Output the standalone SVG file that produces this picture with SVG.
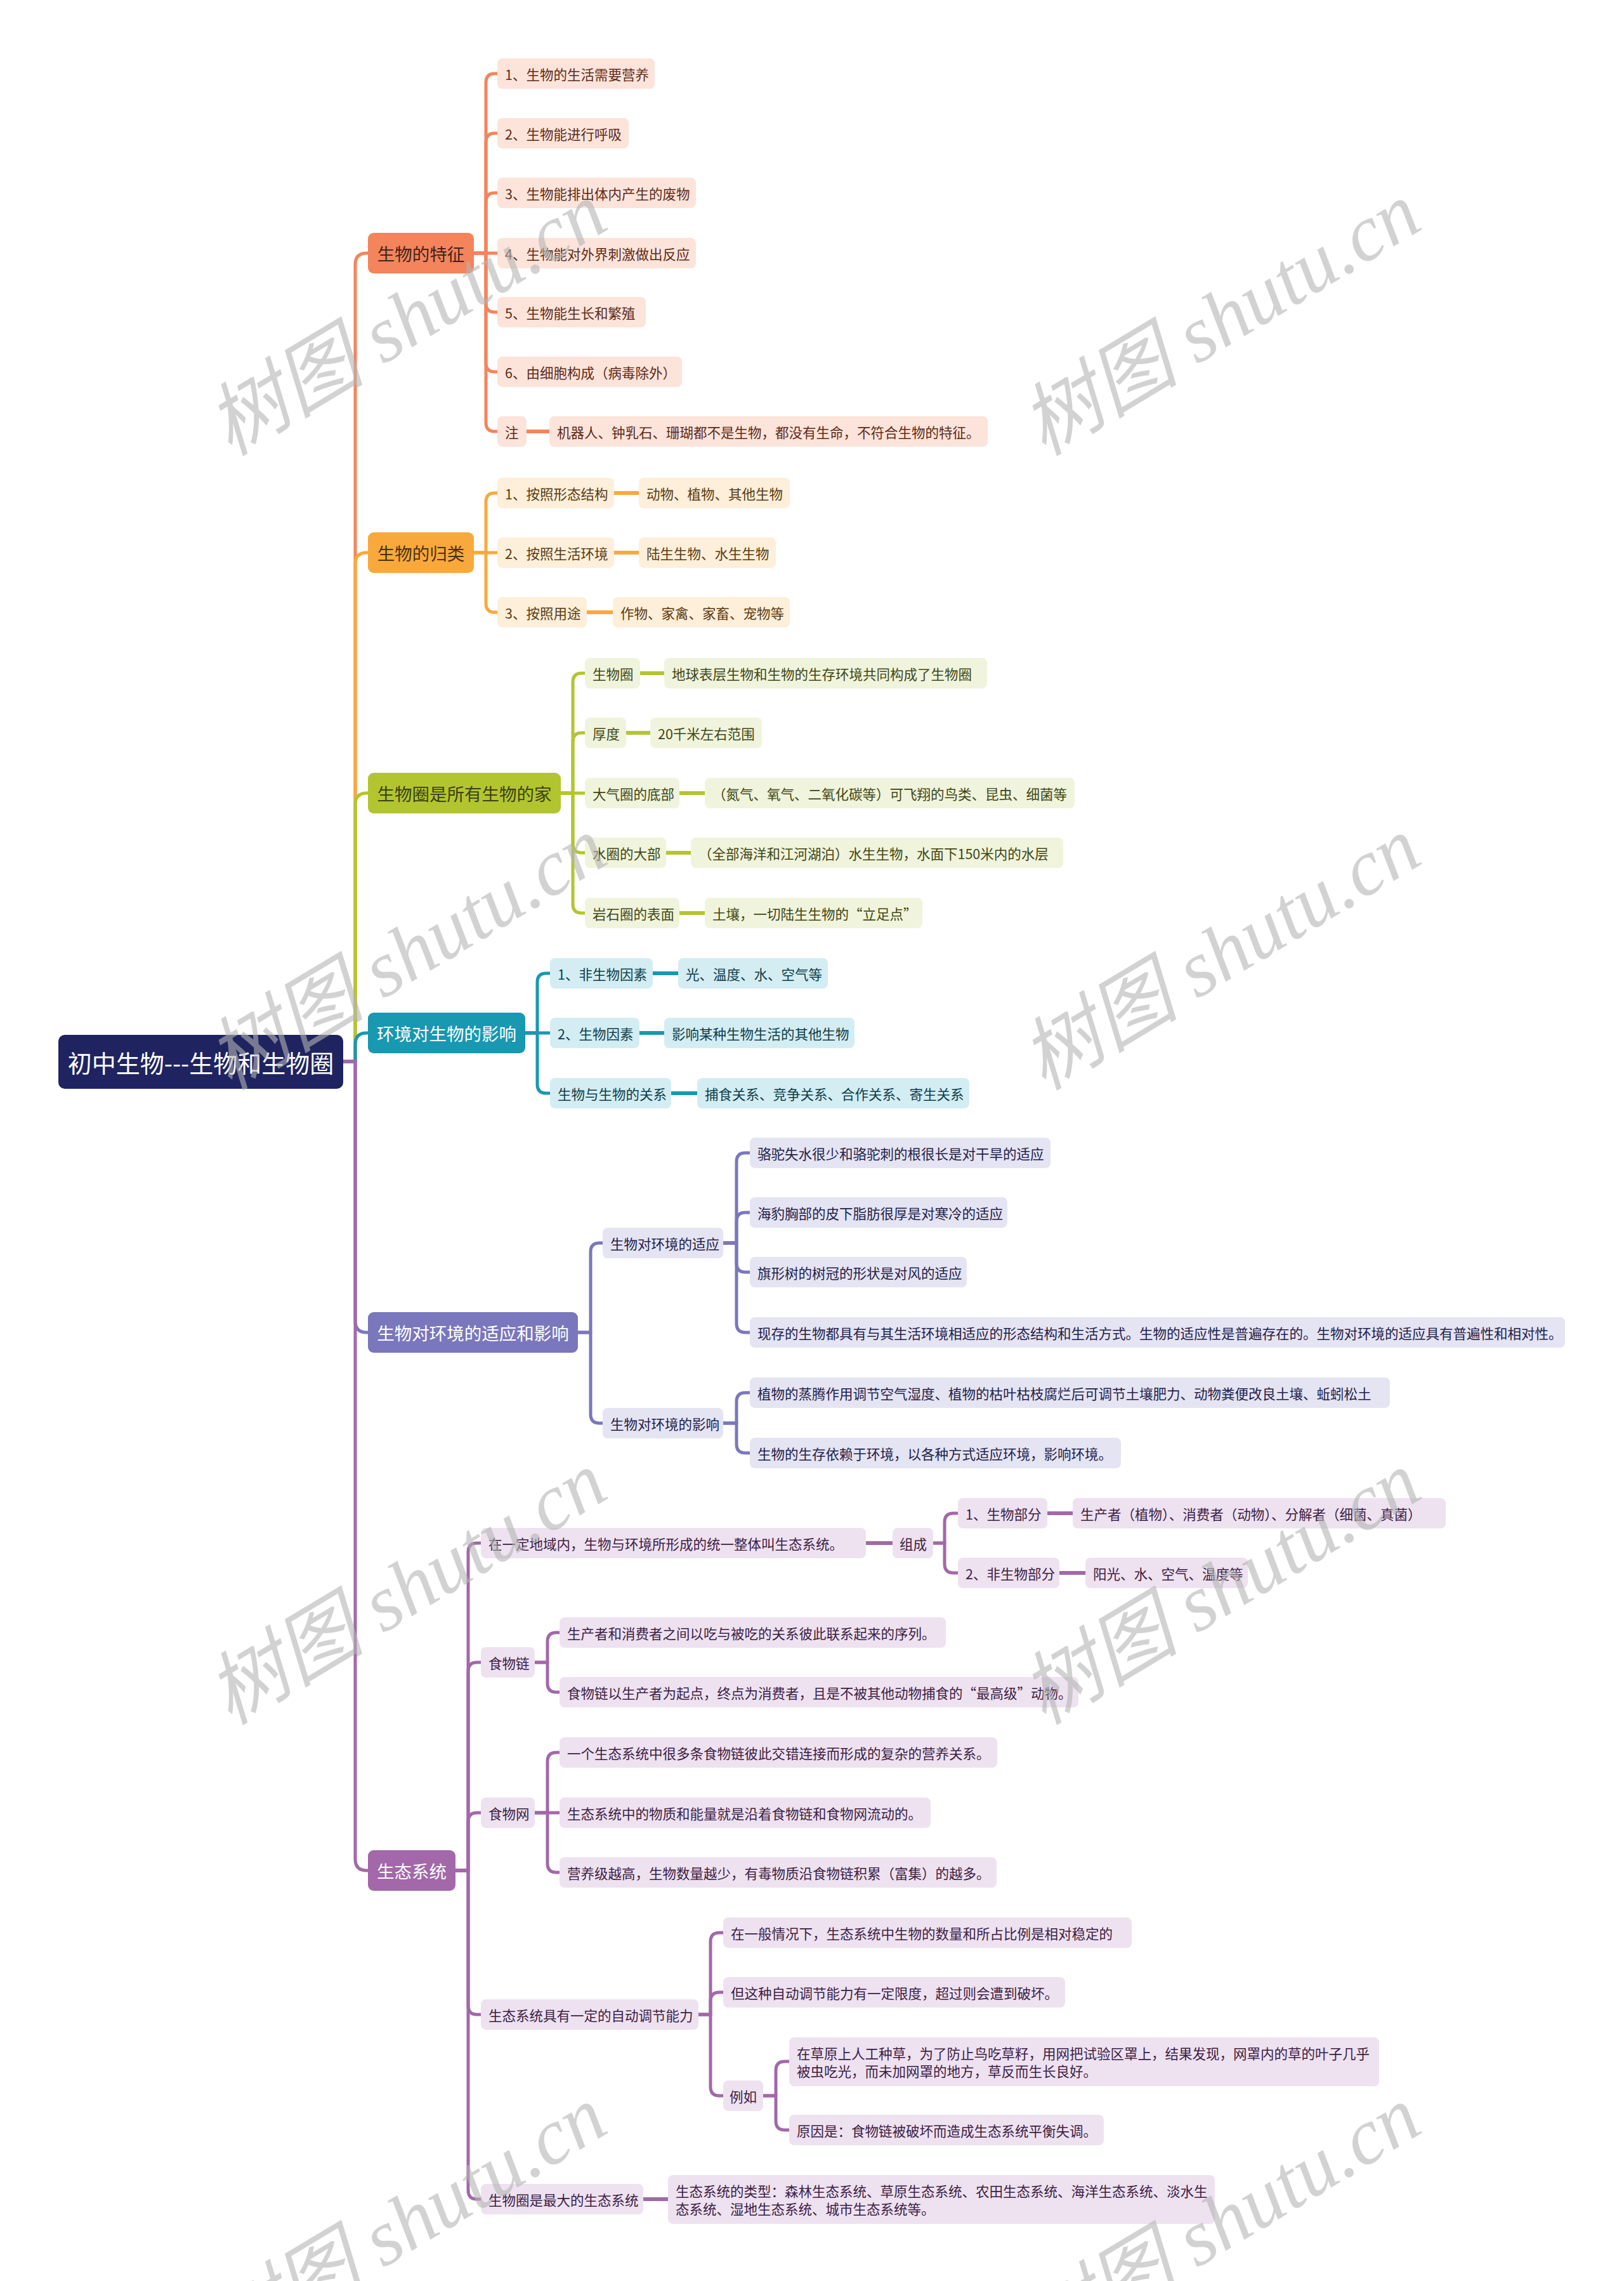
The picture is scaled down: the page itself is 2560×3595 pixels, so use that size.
<svg xmlns="http://www.w3.org/2000/svg" width="2560" height="3595" viewBox="0 0 2560 3595">
<style>
text{font-family:"Noto Sans CJK SC","Noto Sans",sans-serif;}
.t0{font-size:38px;fill:#fff;text-anchor:middle;dominant-baseline:central;}
.t1{font-size:27.5px;text-anchor:middle;dominant-baseline:central;}
.t2{font-size:21.5px;dominant-baseline:central;}
.c{fill:none;stroke-width:5;stroke-linecap:round;stroke-linejoin:round;}
.s{fill:none;stroke-width:6;}
.cA{stroke:#f4845c}.cB{stroke:#f9a93b}.cC{stroke:#b3c52e}.cD{stroke:#1898b1}.cE{stroke:#7a77bc}.cF{stroke:#a268a9}
.fA{fill:#fce4da}.fB{fill:#fdefd9}.fC{fill:#f0f4dc}.fD{fill:#d3edf3}.fE{fill:#e5e4f2}.fF{fill:#eee2f0}
.xA{fill:#5e2a18}.xB{fill:#5a3b12}.xC{fill:#3f4614}.xD{fill:#0f3d48}.xE{fill:#22214a}.xF{fill:#3c2044}
.wm{font-family:"Liberation Serif","Noto Sans CJK SC",serif;font-style:italic;font-size:125px;fill:#b4b4b4;fill-opacity:0.6;text-anchor:middle;}
</style>
<rect width="2560" height="3595" fill="#ffffff"/>
<g id="connectors">
<path class="c cA" d="M541 1673 H560 V417 Q560 399 578 399 H580"/>
<path class="c cB" d="M541 1673 H560 V889 Q560 871 578 871 H580"/>
<path class="c cC" d="M541 1673 H560 V1268 Q560 1250 578 1250 H580"/>
<path class="c cD" d="M541 1673 H560 V1646 Q560 1628 578 1628 H580"/>
<path class="c cE" d="M541 1673 H560 V2082 Q560 2100 578 2100 H580"/>
<path class="c cF" d="M541 1673 H560 V2930 Q560 2948 578 2948 H580"/>
<path class="c cA" d="M747 399 H766 V130 Q766 116 780 116 H784"/>
<path class="c cA" d="M747 399 H766 V224 Q766 210 780 210 H784"/>
<path class="c cA" d="M747 399 H766 V318 Q766 304 780 304 H784"/>
<path class="c cA" d="M747 399 H784"/>
<path class="c cA" d="M747 399 H766 V478 Q766 492 780 492 H784"/>
<path class="c cA" d="M747 399 H766 V572 Q766 586 780 586 H784"/>
<path class="c cA" d="M747 399 H766 V666 Q766 680 780 680 H784"/>
<path class="s cA" d="M830 680 H866"/>
<path class="c cB" d="M747 871 H766 V791 Q766 777 780 777 H784"/>
<path class="c cB" d="M747 871 H784"/>
<path class="c cB" d="M747 871 H766 V951 Q766 965 780 965 H784"/>
<path class="s cB" d="M968 777 H1007"/>
<path class="s cB" d="M968 871 H1007"/>
<path class="s cB" d="M925 965 H966"/>
<path class="c cC" d="M884 1250 H903 V1075 Q903 1061 917 1061 H922"/>
<path class="c cC" d="M884 1250 H903 V1169 Q903 1155 917 1155 H922"/>
<path class="c cC" d="M884 1250 H922"/>
<path class="c cC" d="M884 1250 H903 V1330 Q903 1344 917 1344 H922"/>
<path class="c cC" d="M884 1250 H903 V1425 Q903 1439 917 1439 H922"/>
<path class="s cC" d="M1009 1061 H1047"/>
<path class="s cC" d="M987 1155 H1025"/>
<path class="s cC" d="M1071 1250 H1111"/>
<path class="s cC" d="M1050 1344 H1089"/>
<path class="s cC" d="M1071 1439 H1111"/>
<path class="c cD" d="M828 1628 H847 V1548 Q847 1534 861 1534 H867"/>
<path class="c cD" d="M828 1628 H867"/>
<path class="c cD" d="M828 1628 H847 V1709 Q847 1723 861 1723 H867"/>
<path class="s cD" d="M1029 1534 H1069"/>
<path class="s cD" d="M1008 1628 H1047"/>
<path class="s cD" d="M1058 1723 H1099"/>
<path class="c cE" d="M911 2100 H931 V1973 Q931 1959 945 1959 H950"/>
<path class="c cE" d="M911 2100 H931 V2229 Q931 2243 945 2243 H950"/>
<path class="c cE" d="M1140 1959 H1161 V1831 Q1161 1817 1175 1817 H1182"/>
<path class="c cE" d="M1140 1959 H1161 V1925 Q1161 1911 1175 1911 H1182"/>
<path class="c cE" d="M1140 1959 H1161 V1991 Q1161 2005 1175 2005 H1182"/>
<path class="c cE" d="M1140 1959 H1161 V2086 Q1161 2100 1175 2100 H1182"/>
<path class="c cE" d="M1140 2243 H1161 V2209 Q1161 2195 1175 2195 H1182"/>
<path class="c cE" d="M1140 2243 H1161 V2276 Q1161 2290 1175 2290 H1182"/>
<path class="c cF" d="M718 2948 H738 V2446 Q738 2432 752 2432 H758"/>
<path class="c cF" d="M718 2948 H738 V2634 Q738 2620 752 2620 H758"/>
<path class="c cF" d="M718 2948 H738 V2871 Q738 2857 752 2857 H758"/>
<path class="c cF" d="M718 2948 H738 V3161 Q738 3175 752 3175 H758"/>
<path class="c cF" d="M718 2948 H738 V3452 Q738 3466 752 3466 H758"/>
<path class="s cF" d="M1365 2432 H1407"/>
<path class="c cF" d="M1471 2432 H1489 V2399 Q1489 2385 1503 2385 H1510"/>
<path class="c cF" d="M1471 2432 H1489 V2465 Q1489 2479 1503 2479 H1510"/>
<path class="s cF" d="M1651 2385 H1691"/>
<path class="s cF" d="M1670 2479 H1711"/>
<path class="c cF" d="M843 2620 H863 V2587 Q863 2573 877 2573 H882"/>
<path class="c cF" d="M843 2620 H863 V2653 Q863 2667 877 2667 H882"/>
<path class="c cF" d="M843 2857 H863 V2776 Q863 2762 877 2762 H882"/>
<path class="c cF" d="M843 2857 H882"/>
<path class="c cF" d="M843 2857 H863 V2937 Q863 2951 877 2951 H882"/>
<path class="c cF" d="M1099 3175 H1120 V3060 Q1120 3046 1134 3046 H1140"/>
<path class="c cF" d="M1099 3175 H1120 V3154 Q1120 3140 1134 3140 H1140"/>
<path class="c cF" d="M1099 3175 H1120 V3289 Q1120 3303 1134 3303 H1140"/>
<path class="c cF" d="M1203 3303 H1223 V3263 Q1223 3249 1237 3249 H1244"/>
<path class="c cF" d="M1203 3303 H1223 V3343 Q1223 3357 1237 3357 H1244"/>
<path class="s cF" d="M1012 3466 H1053"/>
</g>
<g id="root"><rect x="92" y="1631" width="449" height="85" rx="10" fill="#1f2460"/><text class="t0" x="316.5" y="1673">初中生物---生物和生物圈</text></g>
<g id="nA"><rect x="580" y="367" width="167" height="64" rx="9" fill="#f4845c"/><text class="t1" x="663.5" y="399" fill="#45231a">生物的特征</text></g>
<g id="nB"><rect x="580" y="839" width="167" height="64" rx="9" fill="#f9a93b"/><text class="t1" x="663.5" y="871" fill="#4a3212">生物的归类</text></g>
<g id="nC"><rect x="580" y="1218" width="304" height="64" rx="9" fill="#b3c52e"/><text class="t1" x="732" y="1250" fill="#3a4214">生物圈是所有生物的家</text></g>
<g id="nD"><rect x="580" y="1596" width="248" height="64" rx="9" fill="#1898b1"/><text class="t1" x="704" y="1628" fill="#ffffff">环境对生物的影响</text></g>
<g id="nE"><rect x="580" y="2068" width="331" height="64" rx="9" fill="#7a77bc"/><text class="t1" x="745.5" y="2100" fill="#ffffff">生物对环境的适应和影响</text></g>
<g id="nF"><rect x="580" y="2916" width="138" height="64" rx="9" fill="#a268a9"/><text class="t1" x="649" y="2948" fill="#ffffff">生态系统</text></g>

<g id="a1"><rect class="fA" x="784" y="92" width="248" height="48" rx="8"/><text class="t2 xA" x="796" y="116">1、生物的生活需要营养</text></g>
<g id="a2"><rect class="fA" x="784" y="186" width="207" height="48" rx="8"/><text class="t2 xA" x="796" y="210">2、生物能进行呼吸</text></g>
<g id="a3"><rect class="fA" x="784" y="280" width="313" height="48" rx="8"/><text class="t2 xA" x="796" y="304">3、生物能排出体内产生的废物</text></g>
<g id="a4"><rect class="fA" x="784" y="375" width="313" height="48" rx="8"/><text class="t2 xA" x="796" y="399">4、生物能对外界刺激做出反应</text></g>
<g id="a5"><rect class="fA" x="784" y="468" width="234" height="48" rx="8"/><text class="t2 xA" x="796" y="492">5、生物能生长和繁殖</text></g>
<g id="a6"><rect class="fA" x="784" y="562" width="291" height="48" rx="8"/><text class="t2 xA" x="796" y="586">6、由细胞构成（病毒除外）</text></g>
<g id="a7"><rect class="fA" x="784" y="656" width="46" height="48" rx="8"/><text class="t2 xA" x="796" y="680">注</text></g>
<g id="a7a"><rect class="fA" x="866" y="656" width="691" height="48" rx="8"/><text class="t2 xA" x="878" y="680">机器人、钟乳石、珊瑚都不是生物，都没有生命，不符合生物的特征。</text></g>

<g id="b1"><rect class="fB" x="784" y="753" width="184" height="48" rx="8"/><text class="t2 xB" x="796" y="777">1、按照形态结构</text></g>
<g id="b1a"><rect class="fB" x="1007" y="753" width="238" height="48" rx="8"/><text class="t2 xB" x="1019" y="777">动物、植物、其他生物</text></g>
<g id="b2"><rect class="fB" x="784" y="847" width="184" height="48" rx="8"/><text class="t2 xB" x="796" y="871">2、按照生活环境</text></g>
<g id="b2a"><rect class="fB" x="1007" y="847" width="216" height="48" rx="8"/><text class="t2 xB" x="1019" y="871">陆生生物、水生生物</text></g>
<g id="b3"><rect class="fB" x="784" y="941" width="141" height="48" rx="8"/><text class="t2 xB" x="796" y="965">3、按照用途</text></g>
<g id="b3a"><rect class="fB" x="966" y="941" width="279" height="48" rx="8"/><text class="t2 xB" x="978" y="965">作物、家禽、家畜、宠物等</text></g>

<g id="c1"><rect class="fC" x="922" y="1037" width="87" height="48" rx="8"/><text class="t2 xC" x="934" y="1061">生物圈</text></g>
<g id="c1a"><rect class="fC" x="1047" y="1037" width="509" height="48" rx="8"/><text class="t2 xC" x="1059" y="1061">地球表层生物和生物的生存环境共同构成了生物圈</text></g>
<g id="c2"><rect class="fC" x="922" y="1131" width="65" height="48" rx="8"/><text class="t2 xC" x="934" y="1155">厚度</text></g>
<g id="c2a"><rect class="fC" x="1025" y="1131" width="176" height="48" rx="8"/><text class="t2 xC" x="1037" y="1155">20千米左右范围</text></g>
<g id="c3"><rect class="fC" x="922" y="1226" width="149" height="48" rx="8"/><text class="t2 xC" x="934" y="1250">大气圈的底部</text></g>
<g id="c3a"><rect class="fC" x="1111" y="1226" width="583" height="48" rx="8"/><text class="t2 xC" x="1123" y="1250">（氮气、氧气、二氧化碳等）可飞翔的鸟类、昆虫、细菌等</text></g>
<g id="c4"><rect class="fC" x="922" y="1320" width="128" height="48" rx="8"/><text class="t2 xC" x="934" y="1344">水圈的大部</text></g>
<g id="c4a"><rect class="fC" x="1089" y="1320" width="587" height="48" rx="8"/><text class="t2 xC" x="1101" y="1344">（全部海洋和江河湖泊）水生生物，水面下150米内的水层</text></g>
<g id="c5"><rect class="fC" x="922" y="1415" width="149" height="48" rx="8"/><text class="t2 xC" x="934" y="1439">岩石圈的表面</text></g>
<g id="c5a"><rect class="fC" x="1111" y="1415" width="343" height="48" rx="8"/><text class="t2 xC" x="1123" y="1439">土壤，一切陆生生物的“立足点”</text></g>

<g id="d1"><rect class="fD" x="867" y="1510" width="162" height="48" rx="8"/><text class="t2 xD" x="879" y="1534">1、非生物因素</text></g>
<g id="d1a"><rect class="fD" x="1069" y="1510" width="236" height="48" rx="8"/><text class="t2 xD" x="1081" y="1534">光、温度、水、空气等</text></g>
<g id="d2"><rect class="fD" x="867" y="1604" width="141" height="48" rx="8"/><text class="t2 xD" x="879" y="1628">2、生物因素</text></g>
<g id="d2a"><rect class="fD" x="1047" y="1604" width="300" height="48" rx="8"/><text class="t2 xD" x="1059" y="1628">影响某种生物生活的其他生物</text></g>
<g id="d3"><rect class="fD" x="867" y="1699" width="191" height="48" rx="8"/><text class="t2 xD" x="879" y="1723">生物与生物的关系</text></g>
<g id="d3a"><rect class="fD" x="1099" y="1699" width="429" height="48" rx="8"/><text class="t2 xD" x="1111" y="1723">捕食关系、竞争关系、合作关系、寄生关系</text></g>

<g id="e1"><rect class="fE" x="950" y="1935" width="190" height="48" rx="8"/><text class="t2 xE" x="962" y="1959">生物对环境的适应</text></g>
<g id="e1a"><rect class="fE" x="1182" y="1793" width="474" height="48" rx="8"/><text class="t2 xE" x="1194" y="1817">骆驼失水很少和骆驼刺的根很长是对干旱的适应</text></g>
<g id="e1b"><rect class="fE" x="1182" y="1887" width="406" height="48" rx="8"/><text class="t2 xE" x="1194" y="1911">海豹胸部的皮下脂肪很厚是对寒冷的适应</text></g>
<g id="e1c"><rect class="fE" x="1182" y="1981" width="342" height="48" rx="8"/><text class="t2 xE" x="1194" y="2005">旗形树的树冠的形状是对风的适应</text></g>
<g id="e1d"><rect class="fE" x="1182" y="2076" width="1285" height="48" rx="8"/><text class="t2 xE" x="1194" y="2100">现存的生物都具有与其生活环境相适应的形态结构和生活方式。生物的适应性是普遍存在的。生物对环境的适应具有普遍性和相对性。</text></g>
<g id="e2"><rect class="fE" x="950" y="2219" width="190" height="48" rx="8"/><text class="t2 xE" x="962" y="2243">生物对环境的影响</text></g>
<g id="e2a"><rect class="fE" x="1182" y="2171" width="1009" height="48" rx="8"/><text class="t2 xE" x="1194" y="2195">植物的蒸腾作用调节空气湿度、植物的枯叶枯枝腐烂后可调节土壤肥力、动物粪便改良土壤、蚯蚓松土</text></g>
<g id="e2b"><rect class="fE" x="1182" y="2266" width="585" height="48" rx="8"/><text class="t2 xE" x="1194" y="2290">生物的生存依赖于环境，以各种方式适应环境，影响环境。</text></g>

<g id="f1"><rect class="fF" x="758" y="2408" width="607" height="48" rx="8"/><text class="t2 xF" x="770" y="2432">在一定地域内，生物与环境所形成的统一整体叫生态系统。</text></g>
<g id="f1a"><rect class="fF" x="1407" y="2408" width="64" height="48" rx="8"/><text class="t2 xF" x="1418" y="2432">组成</text></g>
<g id="f1b"><rect class="fF" x="1510" y="2361" width="141" height="48" rx="8"/><text class="t2 xF" x="1522" y="2385">1、生物部分</text></g>
<g id="f1c"><rect class="fF" x="1691" y="2361" width="588" height="48" rx="8"/><text class="t2 xF" x="1703" y="2385">生产者（植物）、消费者（动物）、分解者（细菌、真菌）</text></g>
<g id="f1d"><rect class="fF" x="1510" y="2455" width="160" height="48" rx="8"/><text class="t2 xF" x="1522" y="2479">2、非生物部分</text></g>
<g id="f1e"><rect class="fF" x="1711" y="2455" width="256" height="48" rx="8"/><text class="t2 xF" x="1723" y="2479">阳光、水、空气、温度等</text></g>
<g id="f2"><rect class="fF" x="758" y="2596" width="85" height="48" rx="8"/><text class="t2 xF" x="770" y="2620">食物链</text></g>
<g id="f2a"><rect class="fF" x="882" y="2549" width="609" height="48" rx="8"/><text class="t2 xF" x="894" y="2573">生产者和消费者之间以吃与被吃的关系彼此联系起来的序列。</text></g>
<g id="f2b"><rect class="fF" x="882" y="2643" width="818" height="48" rx="8"/><text class="t2 xF" x="894" y="2667">食物链以生产者为起点，终点为消费者，且是不被其他动物捕食的“最高级”动物。</text></g>
<g id="f3"><rect class="fF" x="758" y="2833" width="85" height="48" rx="8"/><text class="t2 xF" x="770" y="2857">食物网</text></g>
<g id="f3a"><rect class="fF" x="882" y="2738" width="690" height="48" rx="8"/><text class="t2 xF" x="894" y="2762">一个生态系统中很多条食物链彼此交错连接而形成的复杂的营养关系。</text></g>
<g id="f3b"><rect class="fF" x="882" y="2833" width="585" height="48" rx="8"/><text class="t2 xF" x="894" y="2857">生态系统中的物质和能量就是沿着食物链和食物网流动的。</text></g>
<g id="f3c"><rect class="fF" x="882" y="2927" width="689" height="48" rx="8"/><text class="t2 xF" x="894" y="2951">营养级越高，生物数量越少，有毒物质沿食物链积累（富集）的越多。</text></g>
<g id="f4"><rect class="fF" x="758" y="3151" width="343" height="48" rx="8"/><text class="t2 xF" x="770" y="3175">生态系统具有一定的自动调节能力</text></g>
<g id="f4a"><rect class="fF" x="1140" y="3022" width="644" height="48" rx="8"/><text class="t2 xF" x="1152" y="3046">在一般情况下，生态系统中生物的数量和所占比例是相对稳定的</text></g>
<g id="f4b"><rect class="fF" x="1140" y="3116" width="539" height="48" rx="8"/><text class="t2 xF" x="1152" y="3140">但这种自动调节能力有一定限度，超过则会遭到破坏。</text></g>
<g id="f4c"><rect class="fF" x="1140" y="3279" width="63" height="48" rx="8"/><text class="t2 xF" x="1150" y="3303">例如</text></g>
<g id="f4d"><rect class="fF" x="1244" y="3211" width="930" height="77" rx="8"/><text class="t2 xF"><tspan x="1256" y="3235">在草原上人工种草，为了防止鸟吃草籽，用网把试验区罩上，结果发现，网罩内的草的叶子几乎</tspan><tspan x="1256" y="3263">被虫吃光，而未加网罩的地方，草反而生长良好。</tspan></text></g>
<g id="f4e"><rect class="fF" x="1244" y="3333" width="496" height="48" rx="8"/><text class="t2 xF" x="1256" y="3357">原因是：食物链被破坏而造成生态系统平衡失调。</text></g>
<g id="f5"><rect class="fF" x="758" y="3442" width="256" height="48" rx="8"/><text class="t2 xF" x="770" y="3466">生物圈是最大的生态系统</text></g>
<g id="f5a"><rect class="fF" x="1053" y="3428" width="862" height="77" rx="8"/><text class="t2 xF"><tspan x="1065" y="3452">生态系统的类型：森林生态系统、草原生态系统、农田生态系统、海洋生态系统、淡水生</tspan><tspan x="1065" y="3480">态系统、湿地生态系统、城市生态系统等。</tspan></text></g>

<g id="watermarks">
<text class="wm" x="642" y="545" transform="rotate(-31 642 504)">树图 shutu.cn</text>
<text class="wm" x="1925" y="545" transform="rotate(-31 1925 504)">树图 shutu.cn</text>
<text class="wm" x="642" y="1545" transform="rotate(-31 642 1504)">树图 shutu.cn</text>
<text class="wm" x="1925" y="1545" transform="rotate(-31 1925 1504)">树图 shutu.cn</text>
<text class="wm" x="642" y="2545" transform="rotate(-31 642 2504)">树图 shutu.cn</text>
<text class="wm" x="1925" y="2545" transform="rotate(-31 1925 2504)">树图 shutu.cn</text>
<text class="wm" x="642" y="3545" transform="rotate(-31 642 3504)">树图 shutu.cn</text>
<text class="wm" x="1925" y="3545" transform="rotate(-31 1925 3504)">树图 shutu.cn</text>
</g>
</svg>
